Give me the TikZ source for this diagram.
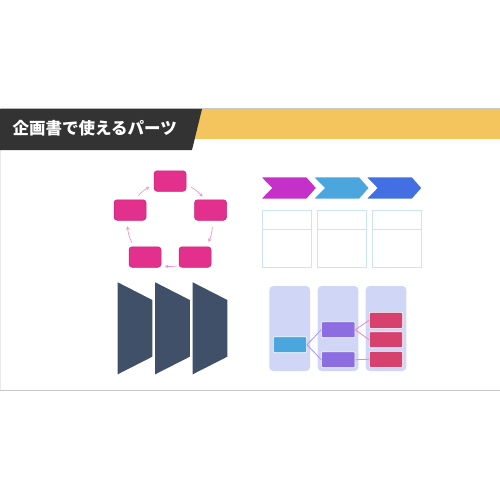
\documentclass[tikz,border=0pt]{standalone}
\usepackage{fontspec}
\newfontfamily\cjk{Noto Sans CJK JP}
\usetikzlibrary{arrows.meta}
\definecolor{hdark}{RGB}{51,51,51}
\definecolor{hyellow}{RGB}{244,197,92}
\definecolor{slidegray}{RGB}{200,200,200}
\definecolor{pinkfill}{RGB}{226,48,140}
\definecolor{pinkedge}{RGB}{205,35,120}
\definecolor{pinkarrow}{RGB}{240,150,200}
\definecolor{chevA}{RGB}{196,48,200}
\definecolor{chevB}{RGB}{74,166,220}
\definecolor{chevC}{RGB}{66,112,226}
\definecolor{tblline}{RGB}{205,228,245}
\definecolor{slate}{RGB}{63,80,104}
\definecolor{lav}{RGB}{208,214,245}
\definecolor{bluebox}{RGB}{74,166,220}
\definecolor{purplebox}{RGB}{140,110,225}
\definecolor{redbox}{RGB}{215,65,110}
\definecolor{lavline}{RGB}{170,150,235}
\definecolor{pinkline}{RGB}{235,140,175}
\tikzset{
  pbox/.style={rectangle, rounded corners=3pt, fill=pinkfill, draw=pinkedge, line width=0.5pt,
    minimum width=32pt, minimum height=20.5pt, inner sep=0pt},
  parr/.style={draw=pinkarrow, line width=0.7pt, -{Stealth[length=3.5pt,width=3.5pt]}},
  chev/.style={draw=white, line width=1.5pt, line join=miter},
  tbl/.style={draw=tblline, line width=1pt},
  colbox/.style={rectangle, rounded corners=4pt, fill=lav, minimum width=40.7pt,
    minimum height=85pt, inner sep=0pt},
  sbox/.style={rectangle, rounded corners=1pt, draw=white, line width=0.6pt,
    minimum width=33.4pt, minimum height=16pt, inner sep=0pt},
  lavconn/.style={draw=lavline, line width=0.8pt},
  pinkconn/.style={draw=pinkline, line width=0.8pt}
}
\begin{document}
\begin{tikzpicture}[x=1pt,y=-1pt]
\useasboundingbox (0,0) rectangle (500,500);
\fill[white] (0,0) rectangle (500,500);
% slide frame
\draw[slidegray, line width=1.2pt] (0,108.5) -- (500,108.5);
\draw[slidegray, line width=1pt] (0,390) -- (500,390);
\draw[slidegray!40, line width=0.4pt] (0.2,108.5) -- (0.2,390);
\draw[slidegray!40, line width=0.4pt] (499.8,108.5) -- (499.8,390);
% header
\fill[hyellow] (190,109) rectangle (500,139);
\fill[hdark] (0,109) -- (202,109) -- (192,150) -- (0,150) -- cycle;
\node[anchor=west, text=white, inner sep=0pt, font=\cjk\bfseries\fontsize{16.5}{18}\selectfont] (title) at (12.5,128) {企画書で使えるパーツ};
% pentagon cycle
\node[pbox] (p1) at (170,181) {};
\node[pbox] (p2) at (210.5,210) {};
\node[pbox] (p3) at (195,257) {};
\node[pbox] (p4) at (145,257) {};
\node[pbox] (p5) at (130,210) {};
\coordinate (pc) at (170,224);
\draw[parr] (pc) ++(-60:42.5) arc[start angle=-60, end angle=-40, radius=42.5];
\draw[parr] (pc) ++(4:42.5) arc[start angle=4, end angle=25, radius=42.5];
\draw[parr] (pc) ++(81:42.5) arc[start angle=81, end angle=97, radius=42.5];
\draw[parr] (pc) ++(154:42.5) arc[start angle=154, end angle=177, radius=42.5];
\draw[parr] (pc) ++(-138:42.5) arc[start angle=-138, end angle=-119, radius=42.5];
% chevrons
\foreach \x/\c in {260/chevA, 312.7/chevB, 365.4/chevC}{
  \filldraw[chev, fill=\c] (\x,176.7) -- ({\x+47},176.7) -- ({\x+57},188) -- ({\x+47},199.3) -- (\x,199.3) -- ({\x+11},188) -- cycle;
}
% tables
\foreach \x in {262.3, 317.3, 372.5}{
  \draw[tbl] (\x,210.7) rectangle ({\x+49},267.3);
  \draw[tbl] (\x,229) -- ({\x+49},229);
}
% trapezoids
\foreach \i in {0,1,2}{
  \fill[slate] ({117.7+37.5*\i},282.3) -- ({152.3+37.5*\i},300) -- ({152.3+37.5*\i},356.7) -- ({117.7+37.5*\i},374.3) -- cycle;
}
% swimlane tree
\node[colbox] (c1) at (289.7,328.5) {};
\node[colbox] (c2) at (338,328.5) {};
\node[colbox] (c3) at (386,328.5) {};
\node[sbox, fill=bluebox] (b1) at (290,344.7) {};
\node[sbox, fill=purplebox] (u1) at (338.3,329.7) {};
\node[sbox, fill=purplebox] (u2) at (338.3,359.7) {};
\node[sbox, fill=redbox] (r1) at (386,320.3) {};
\node[sbox, fill=redbox] (r2) at (386,339.7) {};
\node[sbox, fill=redbox] (r3) at (386,359.3) {};
\draw[lavconn] (b1.east) -- (u1.west);
\draw[lavconn] (b1.east) -- (u2.west);
\draw[pinkconn] (u1.east) -- (r1.west);
\draw[pinkconn] (u1.east) -- (r2.west);
\draw[pinkconn] (u2.east) -- (r3.west);
\end{tikzpicture}
\end{document}
